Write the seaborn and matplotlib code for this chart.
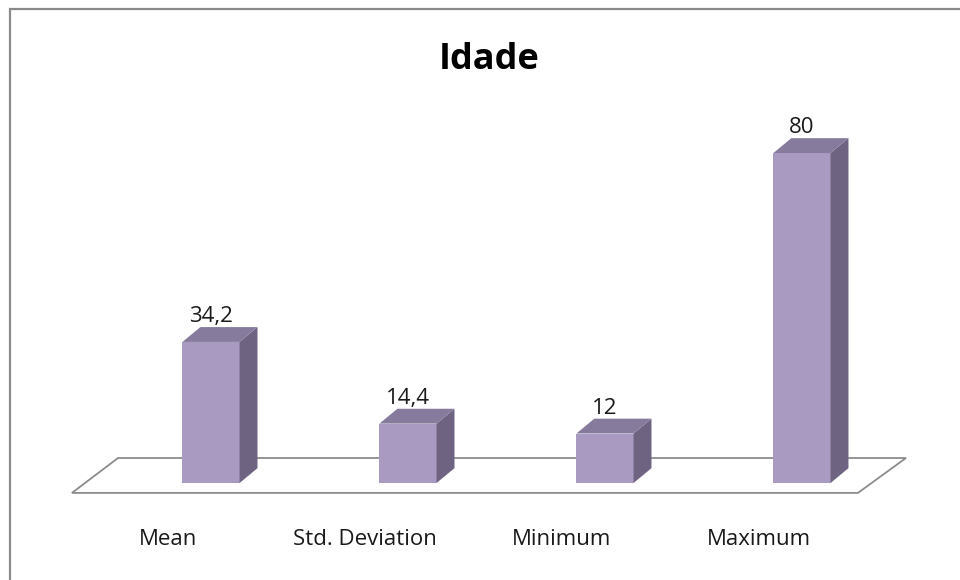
import matplotlib
matplotlib.use("Agg")
import matplotlib.pyplot as plt
import numpy as np
import seaborn as sns
from matplotlib.patches import Polygon, Rectangle

# ── Data ─────────────────────────────────────────────────────────────────────
stats = ["Mean", "Std. Deviation", "Minimum", "Maximum"]
values = [34.2, 14.4, 12, 80]
title = "Idade"

# ── Style ────────────────────────────────────────────────────────────────────
sns.set_style("white")
plt.rcParams["font.family"] = ["Open Sans", "DejaVu Sans"]

front_col = "#A89AC0"
top_col = "#867B9C"
side_col = "#6E6381"
line_col = "#8C8C8C"

depth_x = 0.091   # 3-D depth of the boxes, in data units
depth_y = 3.6

fig = plt.figure(figsize=(9.6, 5.8), dpi=100)
ax = fig.add_axes([0.1172, 0.1459, 0.8208, 0.6614])

sns.barplot(x=stats, y=values, color=front_col, saturation=1, width=0.29,
            linewidth=0, ax=ax, zorder=3)
ax.set_xlim(-0.5, 3.5)
ax.set_ylim(-3, 90)
ax.axis("off")

# floor of the 3-D plot
floor = Polygon([(-0.706, -2.4), (-0.472, 6.06), (3.528, 6.06), (3.284, -2.4)],
                closed=True, fill=False, edgecolor=line_col, lw=1.3,
                zorder=1, clip_on=False)
ax.add_patch(floor)

# side and top faces for each bar
for patch, v in zip(ax.patches[:len(values)], values):
    x0 = patch.get_x()
    w = patch.get_width()
    h = patch.get_height()
    x1 = x0 + w
    side = Polygon([(x1, 0), (x1, h), (x1 + depth_x, h + depth_y),
                    (x1 + depth_x, depth_y)], closed=True,
                   facecolor=side_col, edgecolor="none", zorder=3)
    top = Polygon([(x0, h), (x1, h), (x1 + depth_x, h + depth_y),
                   (x0 + depth_x, h + depth_y)], closed=True,
                  facecolor=top_col, edgecolor="none", zorder=3)
    ax.add_patch(side)
    ax.add_patch(top)
    ax.annotate(f"{v:g}".replace(".", ","), (x0 + w / 2, h + depth_y),
                xytext=(0, 3.6), textcoords="offset points",
                ha="center", va="baseline", fontsize=16, color="#1a1a1a")

# category labels, shifted to follow the floor's front edge
for i, s in enumerate(stats):
    ax.text(i - 0.22, -13.6, s, ha="center", va="center",
            fontsize=16, color="#1a1a1a")

fig.text(489 / 960, 1 - 60 / 580, title, ha="center", va="center",
         fontsize=26, fontweight="bold", color="black")

# chart border (only top and left edges are in view)
fig.add_artist(Rectangle((9.5 / 960, -0.1), 1.2, 1 - 9.5 / 580 + 0.1,
                         transform=fig.transFigure, fill=False,
                         edgecolor="#8A8A8A", lw=1.6))

fig.savefig("out.png", dpi=100)
